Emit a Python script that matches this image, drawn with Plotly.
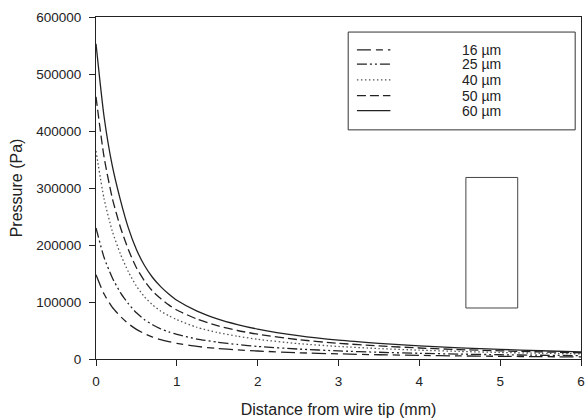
import plotly.graph_objects as go

# Distance from wire tip (mm)
distance_mm = [0, 0.1, 0.2, 0.3, 0.4, 0.5, 0.6, 0.7, 0.8, 0.9, 1.0, 1.25, 1.5, 1.75,
               2.0, 2.5, 3.0, 3.5, 4.0, 4.5, 5.0, 5.5, 6.0]

# Pressure (Pa) for each wire diameter
p_16um = [148000, 114000, 91000, 75000, 62000, 52000, 44500, 38500, 34000, 30500, 27500,
          22000, 18500, 16000, 14000, 11000, 9000, 7500, 6300, 5400, 4700, 4100, 3600]
p_25um = [230000, 178000, 143000, 117000, 97000, 81000, 69000, 60000, 53000, 47500, 43000,
          35000, 29500, 25500, 22000, 17500, 14200, 11800, 10000, 8600, 7500, 6600, 5900]
p_40um = [365000, 281000, 225000, 185000, 153000, 128000, 109000, 95000, 84000, 76000, 69000,
          55500, 46500, 40000, 34500, 27000, 22000, 18300, 15500, 13300, 11500, 10100, 9000]
p_50um = [460000, 354000, 283000, 232000, 192000, 160000, 137000, 119000, 106000, 95000, 86000,
          70000, 58500, 50000, 43500, 34000, 27500, 23000, 19300, 16500, 14300, 12500, 11000]
p_60um = [553000, 425000, 340000, 280000, 230000, 192000, 164000, 143000, 127000, 114000, 103000,
          84000, 70500, 60500, 52500, 41000, 33000, 27500, 23000, 19500, 16800, 14500, 12500]

series_names = ["16 µm", "25 µm", "40 µm", "50 µm", "60 µm"]
series_values = [p_16um, p_25um, p_40um, p_50um, p_60um]
series_dash = ["14px,5px,7px,5px", "10px,3px,2px,3px,2px,3px", "1.5px,2.5px", "9px,4px", "solid"]
series_color = ["#222222", "#222222", "#555555", "#222222", "#222222"]

# Empty rectangle present in the original figure (x in mm, y in Pa)
rect_x = [4.576, 5.217]
rect_y = [89500, 318500]

font_family = "Liberation Sans, Arial, sans-serif"

fig = go.Figure()
for name, vals, dash, col in zip(series_names, series_values, series_dash, series_color):
    fig.add_trace(go.Scatter(
        x=distance_mm, y=vals, mode="lines", name=name, showlegend=False,
        line=dict(color=col, width=1.3, dash=dash, shape="spline", smoothing=0.6),
    ))

fig.add_shape(type="rect", xref="x", yref="y",
              x0=rect_x[0], x1=rect_x[1], y0=rect_y[0], y1=rect_y[1],
              line=dict(color="#444444", width=1), fillcolor="rgba(0,0,0,0)")

# Legend box drawn in paper coordinates (matches original boxed key layout)
legend_box = dict(x0=0.520, x1=0.988, y0=0.670, y1=0.956)
legend_rows = [0.904, 0.862, 0.816, 0.770, 0.726]
legend_key_x = (0.538, 0.607)
legend_text_x = 0.752

fig.add_shape(type="rect", xref="paper", yref="paper", **legend_box,
              line=dict(color="#333333", width=1), fillcolor="white", layer="above")
for name, dash, col, ry in zip(series_names, series_dash, series_color, legend_rows):
    fig.add_shape(type="line", xref="paper", yref="paper",
                  x0=legend_key_x[0], x1=legend_key_x[1], y0=ry, y1=ry,
                  line=dict(color=col, width=1.3, dash=dash), layer="above")
    fig.add_annotation(xref="paper", yref="paper", x=legend_text_x, y=ry,
                       xanchor="left", yanchor="middle", text=name, showarrow=False,
                       borderpad=0,
                       font=dict(family=font_family, size=14, color="#222222"))

fig.update_layout(
    width=585, height=419,
    margin=dict(l=96, r=4, t=17, b=60),
    paper_bgcolor="white", plot_bgcolor="white",
    font=dict(family=font_family, color="#222222", size=14),
    showlegend=False,
    xaxis=dict(
        range=[0, 6], tickvals=[0, 1, 2, 3, 4, 5, 6],
        showgrid=False, zeroline=False, automargin=False,
        showline=True, linecolor="#222222", linewidth=1, mirror=True,
        ticks="outside", ticklen=6, tickcolor="#222222",
        tickfont=dict(size=13.5), ticklabelstandoff=4, ticklabeloverflow="allow",
        title=dict(text="Distance from wire tip (mm)", font=dict(size=16), standoff=15),
    ),
    yaxis=dict(
        range=[0, 600000], tickvals=[0, 100000, 200000, 300000, 400000, 500000, 600000],
        tickformat="d",
        showgrid=False, zeroline=False, automargin=False,
        showline=True, linecolor="#222222", linewidth=1, mirror=True,
        ticks="outside", ticklen=6, tickcolor="#222222",
        tickfont=dict(size=13.5), ticklabelstandoff=5,
        title=dict(text="Pressure (Pa)", font=dict(size=16), standoff=9),
    ),
)

# Remove the page's default body margin so the figure fills the window exactly.
fig.write_html("out.html",
               config={"displayModeBar": False},
               post_script="document.body.style.margin='0';document.body.style.overflow='hidden';")
